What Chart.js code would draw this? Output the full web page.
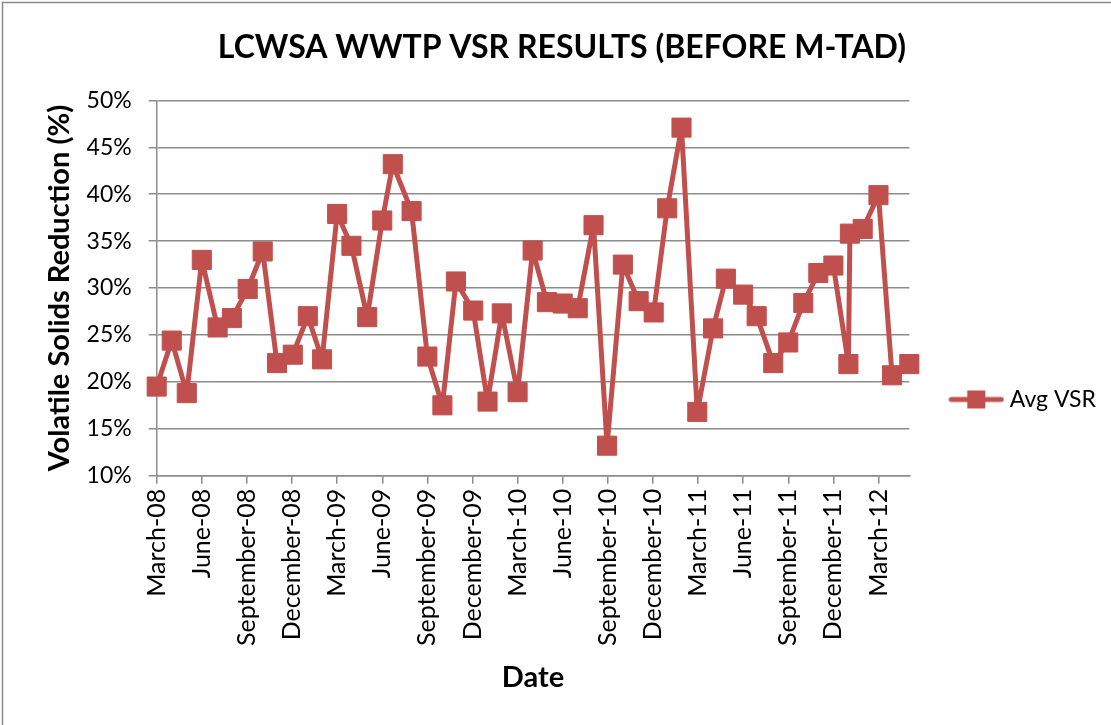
<!DOCTYPE html>
<html>
<head>
<meta charset="utf-8">
<script src="https://cdn.jsdelivr.net/npm/chart.js@4/dist/chart.umd.min.js"></script>
<style>
html,body{margin:0;padding:0;background:#fff;}
#wrap{width:1111px;height:725px;position:relative;}
</style>
</head>
<body>
<div id="wrap"><canvas id="c" width="1111" height="725"></canvas></div>
<script>
// ---- data ----
const chartTitle = 'LCWSA WWTP VSR RESULTS (BEFORE M-TAD)';
const yTitle = 'Volatile Solids Reduction (%)';
const xTitle = 'Date';
const seriesName = 'Avg VSR';
// x tick labels every 3 months starting at March-08
const tickLabels = ['March-08','June-08','September-08','December-08','March-09','June-09','September-09','December-09',
  'March-10','June-10','September-10','December-10','March-11','June-11','September-11','December-11','March-12'];
// sample dates, as months after March 2008
const monthOffsets = [0, 1.0, 2.0, 3.0, 4.05, 5.0, 6.05, 7.05, 8.0, 9.05, 10.05, 11.0, 12.0, 12.95, 14.0, 15.0, 15.7, 16.95,
  18.0, 19.0, 19.9, 21.05, 22.0, 22.95, 24.0, 25.0, 25.95, 27.0, 28.0, 29.05, 29.95, 31.0, 32.05, 33.05, 33.95, 34.9,
  35.95, 37.0, 37.85, 39.0, 39.9, 41.0, 42.0, 43.0, 44.0, 45.0, 46.0, 46.1, 46.95, 48.0, 48.9, 50.05];
// average volatile solids reduction (%)
const avgVSR = [19.5, 24.4, 18.8, 33.0, 25.8, 26.8, 29.9, 33.9, 22.0, 22.9, 27.0, 22.4, 37.9, 34.5, 26.9, 37.2, 43.2, 38.2,
  22.7, 17.5, 30.7, 27.6, 17.9, 27.3, 18.9, 34.0, 28.5, 28.35, 27.85, 36.7, 13.2, 32.5, 28.6, 27.4, 38.5, 47.1,
  16.8, 25.7, 31.0, 29.3, 27.0, 22.0, 24.2, 28.4, 31.6, 32.4, 21.9, 35.8, 36.3, 39.9, 20.7, 21.9];
const yMin = 10, yMax = 50, yStep = 5, xStep = 3;

// ---- styling ----
const RED = '#C0504D';
const GRID = '#8c8c8c';
const FONT = 'Lato';
const PAD_L = 18, PAD_R = 5;

const points = monthOffsets.map((m, i) => ({x: m, y: avgVSR[i]}));

// legend symbol: line with square marker
const mk = document.createElement('canvas');
mk.width = 56; mk.height = 20;
(function(){
  const g = mk.getContext('2d');
  g.strokeStyle = RED; g.lineWidth = 5; g.lineCap = 'round';
  g.beginPath(); g.moveTo(3, 10); g.lineTo(53, 10); g.stroke();
  g.fillStyle = RED; g.fillRect(19, 1, 18, 18);
})();

const frame = {
  id: 'frame',
  beforeDraw(chart) {
    const ctx = chart.ctx;
    ctx.save();
    ctx.strokeStyle = '#8a8a8a';
    ctx.lineWidth = 1.5;
    ctx.strokeRect(2.5, 2.5, 1120, 740);
    ctx.restore();
  },
  afterLayout(chart) {
    if (chart.legend) { chart.legend.top += 37; chart.legend.bottom += 37; }
  }
};

new Chart(document.getElementById('c'), {
  type: 'line',
  data: {
    datasets: [{
      label: seriesName,
      data: points,
      borderColor: RED,
      backgroundColor: RED,
      borderWidth: 5,
      borderJoinStyle: 'round',
      tension: 0,
      pointStyle: 'rect',
      pointRadius: 13.5,
      pointHoverRadius: 13.5,
      pointBackgroundColor: RED,
      pointBorderColor: RED,
      pointBorderWidth: 1,
      clip: false
    }]
  },
  options: {
    responsive: false,
    animation: false,
    devicePixelRatio: 1,
    layout: {padding: {left: PAD_L, right: PAD_R, top: 0, bottom: 0}},
    plugins: {
      title: {
        display: true, text: chartTitle, color: '#000',
        font: {family: FONT, size: 32, weight: 'bold'},
        padding: {top: 28, bottom: 34}
      },
      legend: {
        display: true, position: 'right', align: 'center',
        labels: {
          color: '#000', font: {family: FONT, size: 23},
          usePointStyle: true, pointStyleWidth: 44, padding: 45,
          generateLabels(chart) {
            const items = Chart.defaults.plugins.legend.labels.generateLabels(chart);
            items.forEach(it => { it.pointStyle = mk; it.fontColor = '#000'; });
            return items;
          }
        }
      },
      tooltip: {enabled: false}
    },
    scales: {
      x: {
        type: 'linear',
        min: 0,
        max: Math.max(...monthOffsets),
        afterFit(scale) { scale.height = 249.3; },
        grid: {drawOnChartArea: false, drawTicks: true, tickLength: 8, color: GRID, lineWidth: 1.5},
        border: {color: GRID, width: 1.5},
        ticks: {
          stepSize: xStep, includeBounds: false, autoSkip: false,
          minRotation: 90, maxRotation: 90, padding: 5,
          color: '#000', font: {family: FONT, size: 25},
          callback(v) { const i = Math.round(v / xStep); return Math.abs(v - i * xStep) < 1e-6 ? tickLabels[i] : ''; }
        },
        title: {display: true, text: xTitle, color: '#000', font: {family: FONT, size: 29, weight: 'bold'}, padding: {top: 0, bottom: 30}}
      },
      y: {
        min: yMin, max: yMax,
        afterFit(scale) { scale.width = 156.7 - PAD_L; },
        grid: {color: GRID, lineWidth: 1.5, tickLength: 8, drawTicks: true},
        border: {color: GRID, width: 1.5},
        ticks: {stepSize: yStep, padding: 17, color: '#000', font: {family: FONT, size: 23}, callback: v => v + '%'},
        title: {display: true, text: yTitle, color: '#000', font: {family: FONT, size: 29, weight: 'bold'}, padding: {top: 60 - PAD_L - 17.4, bottom: 0}}
      }
    }
  },
  plugins: [frame]
});
</script>
</body>
</html>
